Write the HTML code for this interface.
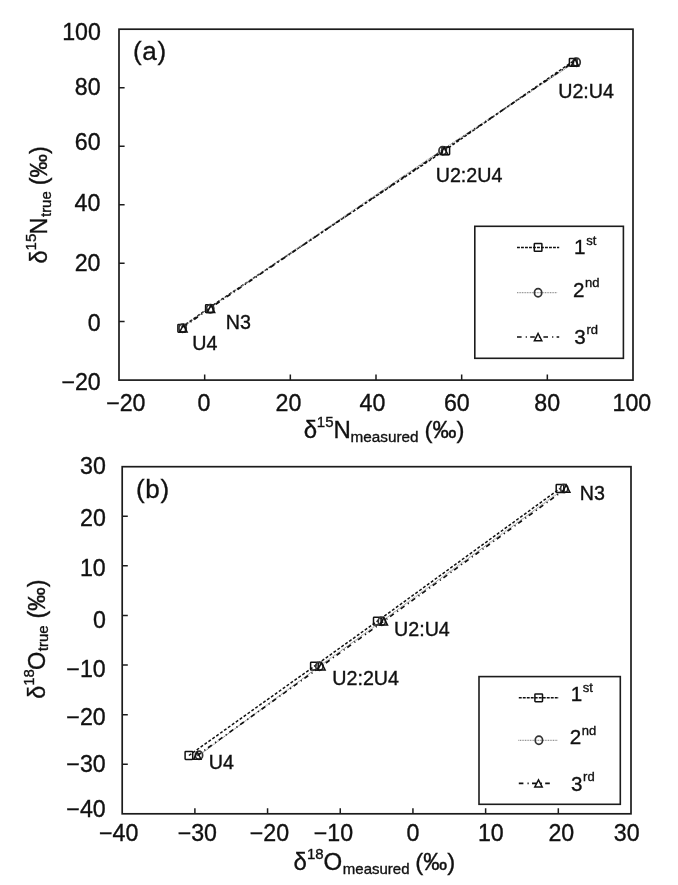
<!DOCTYPE html>
<html lang="en"><head><meta charset="utf-8"><title>Figure</title>
<style>
html,body{margin:0;padding:0;background:#fff;}
body{width:678px;height:885px;overflow:hidden;}
svg{display:block;}
svg text{font-family:"Liberation Sans", Arial, Helvetica, sans-serif;fill:#111;stroke:#111;stroke-width:0.35px;}
</style></head><body>
<svg width="678" height="885" viewBox="0 0 678 885">
<rect width="678" height="885" fill="#fff"/>
<rect x="119" y="29.2" width="514" height="350.9" fill="none" stroke="#1c1c1c" stroke-width="1.7"/>
<path d="M204.67 380.1v-5.6M290.33 380.1v-5.6M376 380.1v-5.6M461.67 380.1v-5.6M547.33 380.1v-5.6M119 321.62h5.6M119 263.13h5.6M119 204.65h5.6M119 146.17h5.6M119 87.68h5.6" fill="none" stroke="#1c1c1c" stroke-width="1.5"/>
<path d="M181.7 327.1L209.4 307.5L445.8 149.6L573.2 61.1" fill="none" stroke="#111" stroke-width="1.5" stroke-dasharray="2.9 1.9"/>
<path d="M182.6 327.1L210.2 307.5L442.6 149.6L576.6 61.1" fill="none" stroke="#8c8c8c" stroke-width="1.2" stroke-dasharray="0.9 0.75"/>
<path d="M183.4 327.1L211 307.5L444.2 149.6L575 61.1" fill="none" stroke="#111" stroke-width="1.65" stroke-dasharray="4.6 4.1 1.2 3.3"/>
<rect x="177.9" y="324.4" width="7.6" height="7.8" rx="0.6" fill="none" stroke="#111" stroke-width="1.5"/>
<ellipse cx="182.6" cy="328.3" rx="3.65" ry="4.1" fill="none" stroke="#333" stroke-width="1.7"/>
<path d="M183.4 324.8L187.1 332H179.7Z" fill="none" stroke="#111" stroke-width="1.5" stroke-linejoin="miter"/>
<rect x="205.6" y="304.8" width="7.6" height="7.8" rx="0.6" fill="none" stroke="#111" stroke-width="1.5"/>
<ellipse cx="210.2" cy="308.7" rx="3.65" ry="4.1" fill="none" stroke="#333" stroke-width="1.7"/>
<path d="M211 305.2L214.7 312.4H207.3Z" fill="none" stroke="#111" stroke-width="1.5" stroke-linejoin="miter"/>
<rect x="442" y="146.9" width="7.6" height="7.8" rx="0.6" fill="none" stroke="#111" stroke-width="1.5"/>
<ellipse cx="442.6" cy="150.8" rx="3.65" ry="4.1" fill="none" stroke="#333" stroke-width="1.7"/>
<path d="M444.2 147.3L447.9 154.5H440.5Z" fill="none" stroke="#111" stroke-width="1.5" stroke-linejoin="miter"/>
<rect x="569.4" y="58.4" width="7.6" height="7.8" rx="0.6" fill="none" stroke="#111" stroke-width="1.5"/>
<ellipse cx="576.6" cy="62.3" rx="3.65" ry="4.1" fill="none" stroke="#333" stroke-width="1.7"/>
<path d="M575 58.8L578.7 66H571.3Z" fill="none" stroke="#111" stroke-width="1.5" stroke-linejoin="miter"/>
<rect x="474.8" y="226.3" width="148.6" height="132" fill="#fff" stroke="#1c1c1c" stroke-width="1.6"/>
<path d="M517 247.4H559.2" stroke="#111" stroke-width="1.5" stroke-dasharray="2.9 1.1" fill="none"/>
<rect x="534.3" y="243.5" width="7.6" height="7.8" rx="0.6" fill="none" stroke="#111" stroke-width="1.5"/>
<path d="M517 292.7H557.1" stroke="#8c8c8c" stroke-width="1.2" stroke-dasharray="0.9 0.75" fill="none"/>
<ellipse cx="538.1" cy="292.7" rx="3.65" ry="4.1" fill="none" stroke="#333" stroke-width="1.7"/>
<path d="M517 337H559.2" stroke="#111" stroke-width="1.65" stroke-dasharray="4.6 4.1 1.2 3.3" fill="none"/>
<path d="M538.1 333.5L541.8 340.7H534.4Z" fill="none" stroke="#111" stroke-width="1.5" stroke-linejoin="miter"/>
<rect x="122.2" y="466.7" width="508.8" height="347.1" fill="none" stroke="#1c1c1c" stroke-width="1.7"/>
<path d="M194.89 813.8v-5.6M267.57 813.8v-5.6M340.26 813.8v-5.6M412.94 813.8v-5.6M485.63 813.8v-5.6M558.31 813.8v-5.6M122.2 764.21h5.6M122.2 714.63h5.6M122.2 665.04h5.6M122.2 615.46h5.6M122.2 565.87h5.6M122.2 516.29h5.6" fill="none" stroke="#1c1c1c" stroke-width="1.5"/>
<path d="M188.9 755.5L314.4 666.2L377.3 621.2L560 488.5" fill="none" stroke="#111" stroke-width="1.5" stroke-dasharray="2.9 1.9"/>
<path d="M199 755.3L319.4 666.2L381.8 621.2L564.2 488.5" fill="none" stroke="#8c8c8c" stroke-width="1.2" stroke-dasharray="0.9 0.75"/>
<path d="M197.3 755.5L321.4 666.2L383.8 621.2L566.2 488.5" fill="none" stroke="#111" stroke-width="1.65" stroke-dasharray="4.6 4.1 1.2 3.3"/>
<rect x="185.1" y="751.6" width="7.6" height="7.8" rx="0.6" fill="none" stroke="#111" stroke-width="1.5"/>
<ellipse cx="199" cy="755.3" rx="3.65" ry="4.1" fill="none" stroke="#333" stroke-width="1.7"/>
<path d="M197.3 752L201 759.2H193.6Z" fill="none" stroke="#111" stroke-width="1.5" stroke-linejoin="miter"/>
<rect x="310.6" y="662.3" width="7.6" height="7.8" rx="0.6" fill="none" stroke="#111" stroke-width="1.5"/>
<ellipse cx="319.4" cy="666.2" rx="3.65" ry="4.1" fill="none" stroke="#333" stroke-width="1.7"/>
<path d="M321.4 662.7L325.1 669.9H317.7Z" fill="none" stroke="#111" stroke-width="1.5" stroke-linejoin="miter"/>
<rect x="373.5" y="617.3" width="7.6" height="7.8" rx="0.6" fill="none" stroke="#111" stroke-width="1.5"/>
<ellipse cx="381.8" cy="621.2" rx="3.65" ry="4.1" fill="none" stroke="#333" stroke-width="1.7"/>
<path d="M383.8 617.7L387.5 624.9H380.1Z" fill="none" stroke="#111" stroke-width="1.5" stroke-linejoin="miter"/>
<rect x="556.2" y="484.6" width="7.6" height="7.8" rx="0.6" fill="none" stroke="#111" stroke-width="1.5"/>
<ellipse cx="564.2" cy="488.5" rx="3.65" ry="4.1" fill="none" stroke="#333" stroke-width="1.7"/>
<path d="M566.2 485L569.9 492.2H562.5Z" fill="none" stroke="#111" stroke-width="1.5" stroke-linejoin="miter"/>
<rect x="479" y="676.6" width="141.3" height="127.7" fill="#fff" stroke="#1c1c1c" stroke-width="1.6"/>
<path d="M518.8 697.8H559" stroke="#111" stroke-width="1.5" stroke-dasharray="2.9 1.1" fill="none"/>
<rect x="534.9" y="693.9" width="7.6" height="7.8" rx="0.6" fill="none" stroke="#111" stroke-width="1.5"/>
<path d="M518.4 740.3H558" stroke="#8c8c8c" stroke-width="1.2" stroke-dasharray="0.9 0.75" fill="none"/>
<ellipse cx="538.9" cy="740.3" rx="3.65" ry="4.1" fill="none" stroke="#333" stroke-width="1.7"/>
<path d="M518.8 783.3H553.8" stroke="#111" stroke-width="1.65" stroke-dasharray="4.6 4.1 1.2 3.3" fill="none"/>
<path d="M538.5 779.8L542.2 787H534.8Z" fill="none" stroke="#111" stroke-width="1.5" stroke-linejoin="miter"/>
<text id="ay100" x="62.2" y="39.9" font-size="23.2">100</text>
<text id="ay80" x="74.8" y="94.65" font-size="23.2">80</text>
<text id="ay60" x="74.8" y="150.2" font-size="23.2">60</text>
<text id="ay40" x="74.5" y="210.6" font-size="23.2">40</text>
<text id="ay20" x="74.7" y="270.85" font-size="23.2">20</text>
<text id="ay0" x="87.8" y="331" font-size="23.2">0</text>
<text id="aym20" x="61.45" y="389.75" font-size="23.2">−20</text>
<text id="axm20" x="106.2" y="410.7" font-size="23.2">−20</text>
<text id="ax0" x="197.55" y="410.7" font-size="23.2">0</text>
<text id="ax20" x="275.6" y="410.7" font-size="23.2">20</text>
<text id="ax40" x="359.5" y="410.7" font-size="23.2">40</text>
<text id="ax60" x="443.95" y="410.7" font-size="23.2">60</text>
<text id="ax80" x="534.3" y="410.7" font-size="23.2">80</text>
<text id="ax100" x="612.5" y="410.7" font-size="23.2">100</text>
<text id="pa" x="133" y="60.3" font-size="26"><tspan letter-spacing="0.7">(a)</tspan></text>
<text id="pb" x="135.9" y="497.75" font-size="26"><tspan letter-spacing="0.7">(b)</tspan></text>
<text id="by30" x="80.1" y="474" font-size="23.2">30</text>
<text id="by20" x="80.1" y="525.85" font-size="23.2">20</text>
<text id="by10" x="79.9" y="575.65" font-size="23.2">10</text>
<text id="by0" x="92.9" y="628.15" font-size="23.2">0</text>
<text id="bym10" x="66.35" y="676.85" font-size="23.2">−10</text>
<text id="bym20" x="66.35" y="725" font-size="23.2">−20</text>
<text id="bym30" x="66.35" y="771.95" font-size="23.2">−30</text>
<text id="bym40" x="66.35" y="817.35" font-size="23.2">−40</text>
<text id="bxm40" x="99" y="840.8" font-size="23.2">−40</text>
<text id="bxm30" x="177.7" y="840.8" font-size="23.2">−30</text>
<text id="bxm20" x="249.8" y="840.8" font-size="23.2">−20</text>
<text id="bxm10" x="313.8" y="840.8" font-size="23.2">−10</text>
<text id="bx0" x="406.4" y="840.8" font-size="23.2">0</text>
<text id="bx10" x="477.95" y="840.8" font-size="23.2">10</text>
<text id="bx20" x="548.4" y="840.8" font-size="23.2">20</text>
<text id="bx30" x="613.75" y="840.8" font-size="23.2">30</text>
<text id="aU4" x="192.35" y="349.8" font-size="19.7">U4</text>
<text id="aN3" x="225.7" y="329.3" font-size="19.7">N3</text>
<text id="aU22" x="435.7" y="182" font-size="19.7">U2:2U4</text>
<text id="aU2" x="558.2" y="98.4" font-size="19.7">U2:U4</text>
<text id="bU4" x="208.85" y="768.8" font-size="19.7">U4</text>
<text id="bU22" x="332.25" y="684.85" font-size="19.7">U2:2U4</text>
<text id="bU2" x="394" y="636.15" font-size="19.7">U2:U4</text>
<text id="bN3" x="579.8" y="499.7" font-size="19.7">N3</text>
<text id="al1" x="574.1" y="254" font-size="20.6">1<tspan font-size="13" dy="-9.3" dx="0.6">st</tspan></text>
<text id="al2" x="572.95" y="296.7" font-size="20.6">2<tspan font-size="13" dy="-9.3" dx="0.6">nd</tspan></text>
<text id="al3" x="574.35" y="343.65" font-size="20.6">3<tspan font-size="13" dy="-9.3" dx="0.6">rd</tspan></text>
<text id="bl1" x="570.7" y="701" font-size="20.6">1<tspan font-size="13" dy="-9.3" dx="0.6">st</tspan></text>
<text id="bl2" x="569.8" y="744.3" font-size="20.6">2<tspan font-size="13" dy="-9.3" dx="0.6">nd</tspan></text>
<text id="bl3" x="571" y="790.65" font-size="20.6">3<tspan font-size="13" dy="-9.3" dx="0.6">rd</tspan></text>
<text id="axt" x="303.8" y="438" font-size="24">δ<tspan font-size="15" dy="-11" dx="-0.3">15</tspan><tspan dy="11" dx="0.0">N</tspan><tspan font-size="15.3" dy="3.8" dx="-0.3">measured</tspan><tspan dy="-3.8" dx="-0.9"> (‰)</tspan></text>
<text id="bxt" x="293.4" y="870.45" font-size="24">δ<tspan font-size="15" dy="-11" dx="0.2">18</tspan><tspan dy="11" dx="-0.1">O</tspan><tspan font-size="15.0" dy="3.8" dx="0.6">measured</tspan><tspan dy="-3.8" dx="-1.0"> (‰)</tspan></text>
<text id="ayt" transform="translate(46.85,263.4) rotate(-90)" font-size="23.5">δ<tspan font-size="15" dy="-11" dx="-0.1">15</tspan><tspan dy="11" dx="-0.8">N</tspan><tspan font-size="15" dy="3.8" dx="0.5">true</tspan><tspan dy="-3.8" dx="-0.6"> (‰)</tspan></text>
<text id="byt" transform="translate(44.5,698.8) rotate(-90)" font-size="23.5">δ<tspan font-size="15" dy="-11" dx="-0.1">18</tspan><tspan dy="11" dx="-0.8">O</tspan><tspan font-size="15" dy="3.8" dx="0.5">true</tspan><tspan dy="-3.8" dx="0.3"> (‰)</tspan></text>
</svg>
</body></html>
